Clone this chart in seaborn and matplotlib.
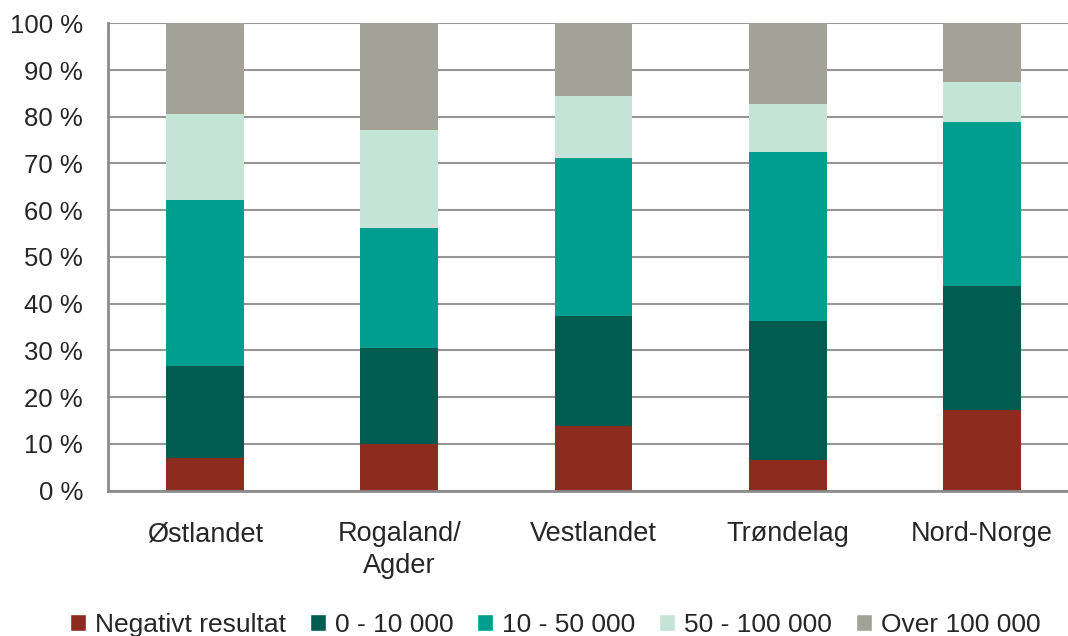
import numpy as np
import pandas as pd
import matplotlib
import matplotlib.pyplot as plt
import seaborn as sns
from matplotlib.patches import Patch
from matplotlib.ticker import FuncFormatter

matplotlib.use('Agg')

# Data (percent of companies per region)
regions = ['Østlandet', 'Rogaland/\nAgder', 'Vestlandet', 'Trøndelag', 'Nord-Norge']
groups = ['Negativt resultat', '0 - 10 000', '10 - 50 000', '50 - 100 000', 'Over 100 000']
negativt = [6.9, 9.9, 13.8, 6.5, 17.2]
lav = [19.7, 20.6, 23.5, 29.9, 26.5]
middels = [35.5, 25.6, 33.8, 36.0, 35.1]
hoy = [18.4, 21.1, 13.3, 10.3, 8.6]
over = [19.5, 22.8, 15.6, 17.3, 12.6]
colors = ['#8B2C1E', '#005C50', '#009E8F', '#C6E3D8', '#A2A396']

df = pd.DataFrame({'region': regions, groups[0]: negativt, groups[1]: lav,
                   groups[2]: middels, groups[3]: hoy, groups[4]: over})
cum = df[groups].cumsum(axis=1)

sns.set_style('white')
plt.rcParams['font.family'] = ['Liberation Sans', 'DejaVu Sans']

fig = plt.figure(figsize=(10.68, 6.36), dpi=100)
ax = fig.add_axes([0.1011, 0.2285, 0.9092, 0.7349])

# Stacked bars: draw cumulative totals from the top down
for g, c in reversed(list(zip(groups, colors))):
    sns.barplot(data=cum.assign(region=regions), x='region', y=g, color=c,
                width=0.4, saturation=1, linewidth=0, ax=ax, zorder=3)

ax.set_xlim(-0.5, 4.5)
ax.set_ylim(0, 100)
ax.set_yticks(np.arange(0, 101, 10))
ax.yaxis.set_major_formatter(FuncFormatter(lambda v, p: f'{v:.0f} %'))
ax.grid(axis='y', color='#969696', linewidth=1.5, zorder=0)
ax.set_axisbelow(True)
ax.set_xlabel('')
ax.set_ylabel('')

for s in ['top', 'right']:
    ax.spines[s].set_visible(False)
for s in ['left', 'bottom']:
    ax.spines[s].set_color('#8c8c8c')
    ax.spines[s].set_linewidth(2)
    ax.spines[s].set_zorder(4)

# ticks on the category boundaries, labels centered under bars
ax.set_xticks(np.arange(0, 5))
ax.set_xticklabels(regions, fontsize=19.5, linespacing=1.3)
ax.set_xticks(np.arange(-0.5, 5.0, 1), minor=True)
ax.tick_params(axis='x', which='major', length=0, pad=22)
ax.tick_params(axis='x', which='minor', length=7, width=1.5, color='#8c8c8c', direction='out')
ax.tick_params(axis='y', length=7, width=1.5, color='#8c8c8c', pad=11, labelsize=18.5)

handles = [Patch(facecolor=c, label=g) for g, c in zip(groups, colors)]
fig.legend(handles=handles, loc='center', bbox_to_anchor=(0.52, 0.018), ncol=5,
           frameon=False, fontsize=19, handlelength=0.6, handleheight=0.6,
           handletextpad=0.35, columnspacing=0.9)

fig.savefig('out.png', dpi=100)
